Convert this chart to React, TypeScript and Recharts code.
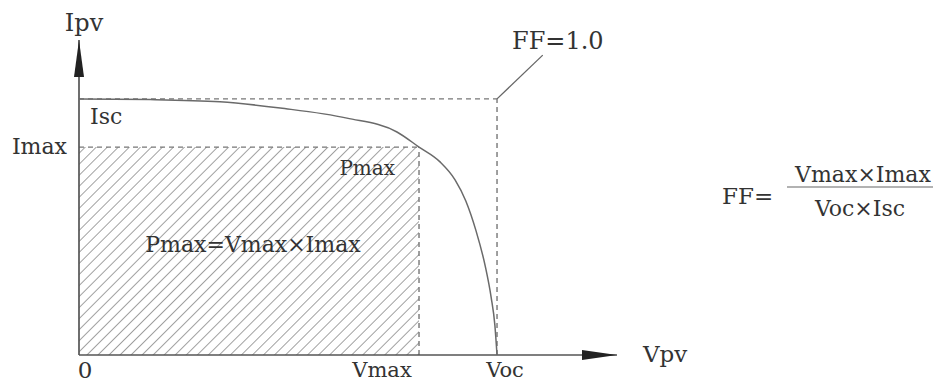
import React from "react";
import {
  ComposedChart,
  Line,
  XAxis,
  YAxis,
  ReferenceLine,
  ReferenceArea,
  ReferenceDot,
} from "recharts";

// I–V curve of a PV cell (arbitrary units)
const voltage = [0, 13.2, 26.2, 37.4, 49.8, 59.1, 63.2, 67.1, 69.9, 71.9, 73.8, 75.5, 76.6, 77.3, 77.7];
const current = [81.3, 81.1, 80.4, 78.4, 75.2, 70.8, 66.0, 61.3, 55.6, 48.9, 39.4, 28.3, 18.4, 9.5, 0];

const Isc = 81.3;
const Voc = 77.7;
const Imax = 66.0;
const Vmax = 63.2;
const axisMax = 100;
const ffLeader = { x: 86.2, y: 95.2 };

const data = voltage.map((v, i) => ({ v, i: current[i] }));

const FONT = "'DejaVu Serif', serif";
const TXT = "#333";

const textShape =
  (label: string, dx: number, dy: number, anchor: string, size: number) =>
  (props: any) =>
    (
      <text
        x={props.cx + dx}
        y={props.cy + dy}
        textAnchor={anchor}
        fontFamily={FONT}
        fontSize={size}
        fill={TXT}
      >
        {label}
      </text>
    );

const upArrow = (props: any) => (
  <path
    d={`M${props.cx},${props.cy} L${props.cx - 5},${props.cy + 37} L${props.cx + 5},${props.cy + 37} Z`}
    fill="#222"
  />
);
const rightArrow = (props: any) => (
  <path
    d={`M${props.cx},${props.cy} L${props.cx - 35},${props.cy - 5} L${props.cx - 35},${props.cy + 5} Z`}
    fill="#222"
  />
);

export default function App() {
  return (
    <div style={{ position: "absolute", left: 0, top: 0, width: 936, height: 383, background: "#fff" }}>
      <ComposedChart
        width={936}
        height={383}
        data={data}
        margin={{ top: 40, right: 319, bottom: 28, left: 79 }}
      >
        <defs>
          <pattern
            id="hatch"
            patternUnits="userSpaceOnUse"
            width="7.8"
            height="7.8"
            patternTransform="rotate(45)"
          >
            <line x1="0" y1="0" x2="0" y2="7.8" stroke="#6e6e6e" strokeWidth="1.3" />
          </pattern>
        </defs>
        <XAxis type="number" dataKey="v" domain={[0, axisMax]} hide />
        <YAxis type="number" domain={[0, axisMax]} hide />

        <ReferenceArea
          x1={0}
          x2={Vmax}
          y1={0}
          y2={Imax}
          fill="url(#hatch)"
          fillOpacity={1}
          stroke="none"
        />

        <ReferenceLine segment={[{ x: 0, y: Isc }, { x: Voc, y: Isc }]} stroke="#777" strokeDasharray="5 4" strokeWidth={1.4} />
        <ReferenceLine segment={[{ x: Voc, y: 0 }, { x: Voc, y: Isc }]} stroke="#777" strokeDasharray="5 4" strokeWidth={1.4} />
        <ReferenceLine segment={[{ x: 0, y: Imax }, { x: Vmax, y: Imax }]} stroke="#777" strokeDasharray="5 4" strokeWidth={1.4} />
        <ReferenceLine segment={[{ x: Vmax, y: 0 }, { x: Vmax, y: Imax }]} stroke="#777" strokeDasharray="5 4" strokeWidth={1.4} />
        <ReferenceLine segment={[{ x: Voc, y: Isc }, ffLeader]} stroke="#666" strokeWidth={1.3} />

        <ReferenceLine segment={[{ x: 0, y: 0 }, { x: axisMax, y: 0 }]} stroke="#555" strokeWidth={1.7} />
        <ReferenceLine segment={[{ x: 0, y: 0 }, { x: 0, y: axisMax }]} stroke="#555" strokeWidth={1.7} />

        <Line
          type="monotone"
          dataKey="i"
          stroke="#6a6a6a"
          strokeWidth={1.5}
          dot={false}
          isAnimationActive={false}
        />

        <ReferenceDot x={0} y={axisMax} r={0} shape={upArrow} />
        <ReferenceDot x={axisMax} y={0} r={0} shape={rightArrow} />

        <ReferenceDot x={0} y={axisMax} r={0} shape={textShape("Ipv", 5, -9, "middle", 24)} />
        <ReferenceDot x={axisMax} y={0} r={0} shape={textShape("Vpv", 26, 7, "start", 23)} />
        <ReferenceDot x={0} y={Isc} r={0} shape={textShape("Isc", 11, 25, "start", 22)} />
        <ReferenceDot x={0} y={Imax} r={0} shape={textShape("Imax", -12, 7, "end", 22)} />
        <ReferenceDot x={Vmax} y={Imax} r={0} shape={textShape("Pmax", -24, 28, "end", 20)} />
        <ReferenceDot x={Vmax / 2} y={Imax / 2} r={0} shape={textShape("Pmax=Vmax×Imax", 4, 1, "middle", 22)} />
        <ReferenceDot x={0} y={0} r={0} shape={textShape("0", 6, 23, "middle", 23)} />
        <ReferenceDot x={Vmax} y={0} r={0} shape={textShape("Vmax", -37, 22, "middle", 21)} />
        <ReferenceDot x={Voc} y={0} r={0} shape={textShape("Voc", 8, 22, "middle", 21)} />
        <ReferenceDot x={Voc} y={Isc} r={0} shape={textShape("FF=1.0", 15, -50, "start", 24)} />
      </ComposedChart>

      <svg
        width={936}
        height={383}
        style={{ position: "absolute", left: 0, top: 0, pointerEvents: "none" }}
      >
        <text x={722} y={204} fontFamily={FONT} fontSize={23} fill={TXT}>
          FF=
        </text>
        <line x1={787} y1={187} x2={933} y2={187} stroke="#999" strokeWidth={1.5} />
        <text x={863} y={182} textAnchor="middle" fontFamily={FONT} fontSize={22} fill={TXT}>
          Vmax×Imax
        </text>
        <text x={860} y={216} textAnchor="middle" fontFamily={FONT} fontSize={22} fill={TXT}>
          Voc×Isc
        </text>
      </svg>
    </div>
  );
}
